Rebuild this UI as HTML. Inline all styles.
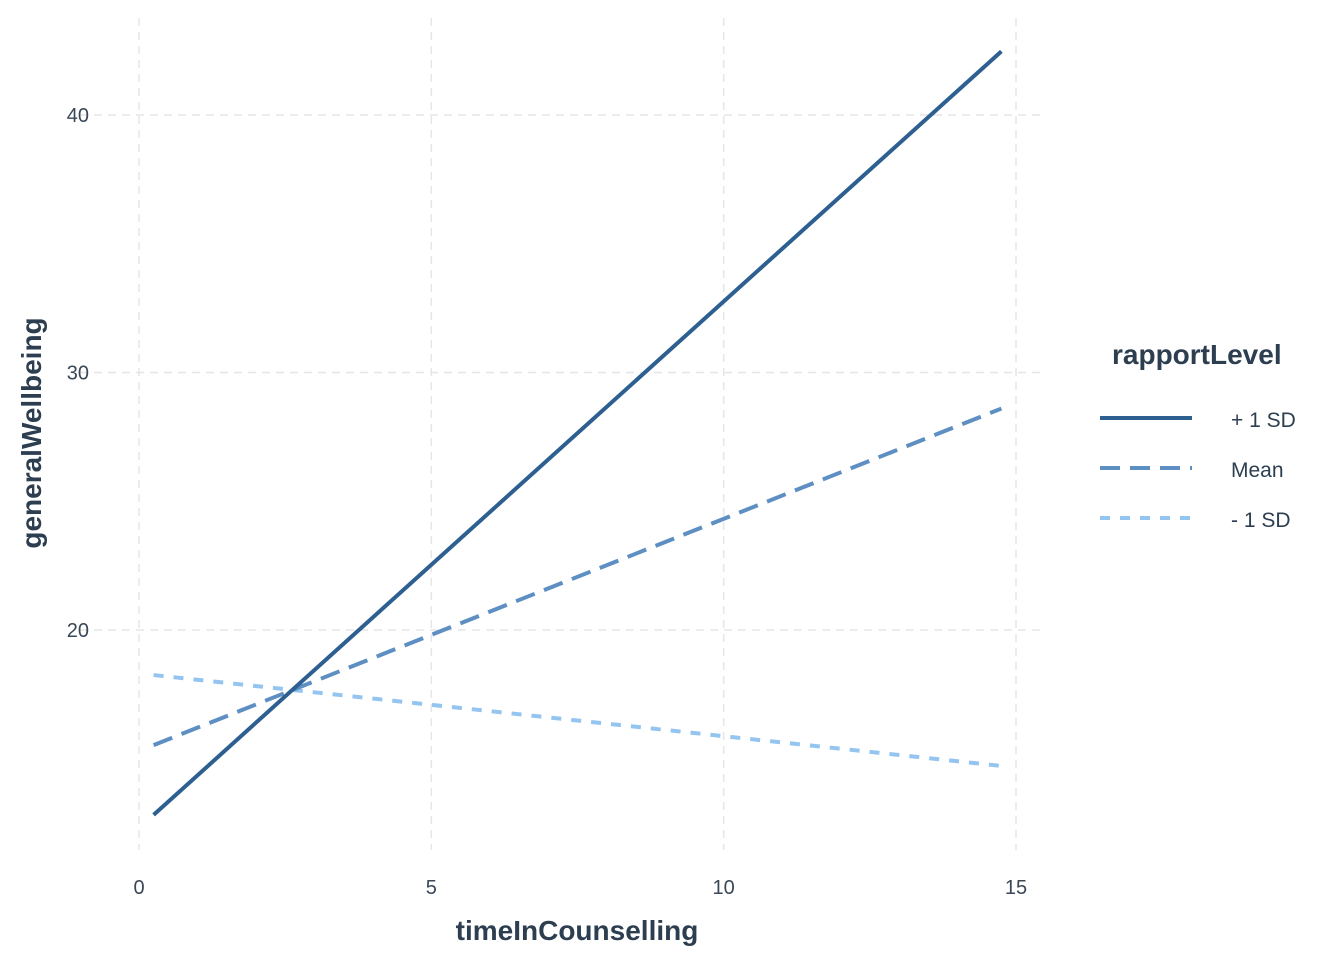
<!DOCTYPE html>
<html><head><meta charset="utf-8"><style>
body{margin:0;background:#fff;}
svg text{font-family:"Liberation Sans",Arial,sans-serif;}
</style></head><body>
<svg id="chart" width="1344" height="960">
<g id="grid"></g>
<g id="lines"></g>
<g id="axes"></g>
<text x="577" y="940" text-anchor="middle" font-size="28" font-weight="bold" fill="#2c3e50">timeInCounselling</text>
<text transform="translate(41,433) rotate(-90)" text-anchor="middle" font-size="28" font-weight="bold" fill="#2c3e50">generalWellbeing</text>
<g>
<text x="1112" y="364" font-size="28" font-weight="bold" fill="#2c3e50">rapportLevel</text>
<g><line x1="1100" y1="418" x2="1192" y2="418" stroke="#2d5f91" stroke-width="4"/><text x="1231" y="427" font-size="21" fill="#2c3e50">+ 1 SD</text></g>
<g><line x1="1100" y1="468" x2="1192" y2="468" stroke="#5e8fc3" stroke-width="4" stroke-dasharray="20,10"/><text x="1231" y="477" font-size="21" fill="#2c3e50">Mean</text></g>
<g><line x1="1100" y1="518" x2="1192" y2="518" stroke="#93c5f0" stroke-width="4" stroke-dasharray="10,10"/><text x="1231" y="527" font-size="21" fill="#2c3e50">- 1 SD</text></g>
</g>
</svg>
<script>
const xTicks=[0,5,10,15];
const yTicks=[20,30,40];
const xValues=[0.25,14.75];
const plusSD=[12.82,42.47];
const meanVals=[15.53,28.6];
const minusSD=[18.25,14.72];
const ns="http://www.w3.org/2000/svg";
const xs=v=>139+v*(1016-139)/15;
const ys=v=>630-(v-20)*(630-115)/20;
const grid=document.getElementById('grid'),lines=document.getElementById('lines'),axes=document.getElementById('axes');
function mk(tag,attrs,parent){const e=document.createElementNS(ns,tag);for(const k in attrs)e.setAttribute(k,attrs[k]);parent.appendChild(e);return e;}
xTicks.forEach(t=>{
 const l=mk('line',{x1:xs(t),x2:xs(t),y1:18,y2:850,stroke:'#e6e6e6','stroke-width':1.5,'stroke-dasharray':'8,6'},grid);
 
 
 const tx=mk('text',{x:xs(t),y:894,'text-anchor':'middle','font-size':20,fill:'#3a4756'},axes);tx.textContent=t;
 
 
});
yTicks.forEach(t=>{
 const l=mk('line',{x1:80,x2:1043,y1:ys(t),y2:ys(t),stroke:'#e6e6e6','stroke-width':1.5,'stroke-dasharray':'8,6'},grid);
 
 
 const tx=mk('text',{x:89,y:ys(t)+7,'text-anchor':'end','font-size':20,fill:'#3a4756'},axes);tx.textContent=t;
 
 
});
const series=[[minusSD,'#93c5f0','10,10','line-minus-1sd'],[meanVals,'#5e8fc3','20,10','line-mean'],[plusSD,'#2d5f91','none','line-plus-1sd']];
series.forEach(([vals,c,d,name])=>{
 const pts=vals.map((v,i)=>xs(xValues[i])+','+ys(v)).join(' ');
 const p=mk('polyline',{points:pts,fill:'none',stroke:c,'stroke-width':4,'stroke-dasharray':d},lines);
 
 
});
</script>
</body></html>
